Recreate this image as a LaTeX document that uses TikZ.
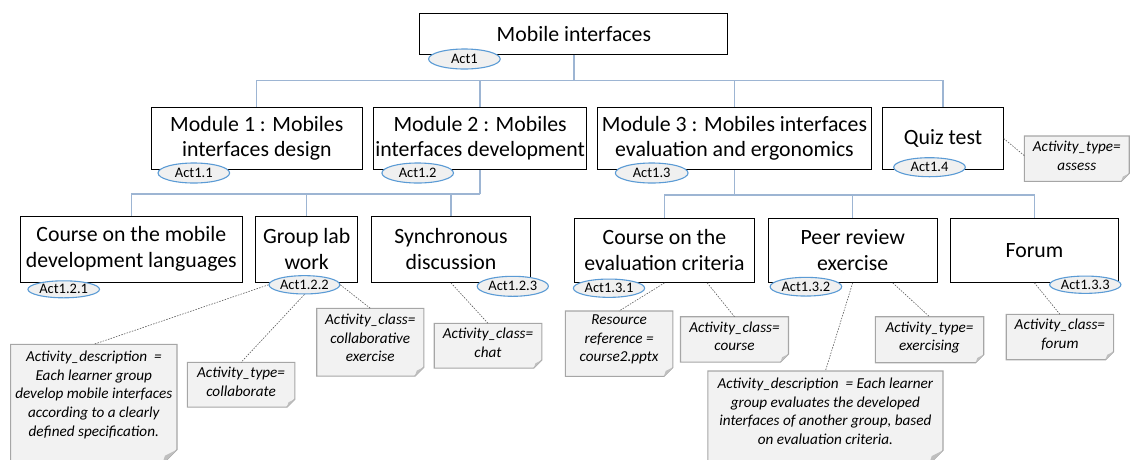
\documentclass[tikz,border=0pt]{standalone}
\usepackage{fontspec}
\setmainfont{Carlito}
\usetikzlibrary{shapes.geometric,calc,backgrounds}
\definecolor{linkblue}{HTML}{9DB5D3}
\definecolor{actblue}{HTML}{5B9BD5}
\definecolor{actfill}{HTML}{F0F0F0}
\definecolor{notefill}{HTML}{F2F2F2}
\definecolor{noteline}{HTML}{A6A6A6}
\definecolor{foldfill}{HTML}{BFBFBF}
\definecolor{dotgray}{HTML}{595959}
\tikzset{
  box/.style={draw=black, line width=1.1pt, fill=white, align=center, inner sep=0pt,
    font=\fontsize{21.8}{26}\selectfont},
  modbox/.style={box, font=\fontsize{21.8}{24.8}\selectfont},
  actel/.style={ellipse, draw=actblue, line width=1.1pt, fill=actfill, inner sep=0pt,
    font=\fontsize{14.5}{16}\selectfont},
  notetext/.style={align=center, inner sep=0pt, anchor=north,
    font=\itshape\fontsize{15.2}{18.7}\selectfont},
  link/.style={draw=linkblue, line width=1.3pt},
  dots/.style={draw=dotgray, line width=0.6pt, dash pattern=on 1.5pt off 1.3pt},
  notebg/.style={fill=notefill, draw=noteline, line width=1.1pt},
}
\begin{document}
\begin{tikzpicture}[x=1pt,y=-1pt]
\useasboundingbox (0,0) rectangle (1130,459);
% main boxes
\node[box, minimum width=308pt, minimum height=40.6pt] (top) at (573.9,34) {Mobile interfaces};
\node[modbox, minimum width=211pt, minimum height=62pt] (m1) at (256.8,138.5) {Module 1 : Mobiles\\interfaces design};
\node[modbox, minimum width=212.4pt, minimum height=62pt] (m2) at (480.1,138.5) {Module 2 : Mobiles\\interfaces development};
\node[modbox, minimum width=274pt, minimum height=62pt] (m3) at (734.5,138.5) {Module 3 : Mobiles interfaces\\evaluation and ergonomics};
\node[modbox, minimum width=120.3pt, minimum height=62pt] (quiz) at (943,138.5) {Quiz test};
\node[box, minimum width=222pt, minimum height=66.3pt] (l1) at (131.3,249.2) {Course on the mobile\\development languages};
\node[box, minimum width=102.2pt, minimum height=66.3pt] (l2) at (306.7,249.2) {Group lab\\work};
\node[box, minimum width=159.6pt, minimum height=66.3pt] (l3) at (451,249.2) {Synchronous\\discussion};
\node[box, minimum width=180pt, minimum height=64pt] (l4) at (664.5,250.3) {Course on the\\evaluation criteria};
\node[box, minimum width=168.7pt, minimum height=64pt] (l5) at (852.7,250.3) {Peer review\\exercise};
\node[box, minimum width=168.7pt, minimum height=64pt] (l6) at (1034.4,250.3) {Forum};
% tree connectors
\coordinate (b0) at ($(top.south)+(0,25.7)$);
\coordinate (b2) at ($(m2.south)+(0,24)$);
\coordinate (b3) at ($(m3.south)+(0,25)$);
\draw[link] (top.south) -- (b0);
\draw[link] (b0) -| (m1.north);
\draw[link] (b0) -| (m2.north);
\draw[link] (b0) -| (m3.north);
\draw[link] (b0) -| (quiz.north);
\draw[link] (m2.south) -- (b2);
\draw[link] (b2) -| (l1.north);
\draw[link] (b2) -| (l2.north);
\draw[link] (b2) -| (l3.north);
\draw[link] (m3.south) -- (b3);
\draw[link] (b3) -| (l4.north);
\draw[link] (b3) -| (l5.north);
\draw[link] (b3) -| (l6.north);
% activity ellipses
\node[actel, minimum width=71.6pt, minimum height=20pt] (act1) at (464.4,59) {Act1};
\node[actel, minimum width=71.6pt, minimum height=20pt] (a11) at (193.8,173) {Act1.1};
\node[actel, minimum width=71.6pt, minimum height=20pt] (a12) at (417.7,173) {Act1.2};
\node[actel, minimum width=72.7pt, minimum height=20pt] (a13) at (651.7,173) {Act1.3};
\node[actel, minimum width=71.6pt, minimum height=19pt] (a14) at (929.5,167.2) {Act1.4};
\node[actel, minimum width=71.6pt, minimum height=17pt] (a121) at (63.7,289.3) {Act1.2.1};
\node[actel, minimum width=70.8pt, minimum height=18.3pt] (a122) at (304.4,284.8) {Act1.2.2};
\node[actel, minimum width=71.2pt, minimum height=20pt] (a123) at (512.8,286.3) {Act1.2.3};
\node[actel, minimum width=71.3pt, minimum height=18.3pt] (a131) at (609,288.2) {Act1.3.1};
\node[actel, minimum width=71.6pt, minimum height=18.7pt] (a132) at (805.9,286.7) {Act1.3.2};
\node[actel, minimum width=71.3pt, minimum height=17.3pt] (a133) at (1085.3,284.7) {Act1.3.3};
% notes
\node[notetext, minimum width=104.4pt, minimum height=39pt] (nq) at (1076.8,136) {Activity\_type=\\assess};
\node[notetext, minimum width=166pt, minimum height=100.6pt] (n1) at (93.8,344.3) {Activity\_description~ =\\Each learner group\\develop mobile interfaces\\according to a clearly\\defined specification.};
\node[notetext, minimum width=107.2pt, minimum height=38.8pt] (n2) at (241.1,362.3) {Activity\_type=\\collaborate};
\node[notetext, minimum width=106.8pt, minimum height=58.8pt] (n3) at (370.3,308.3) {Activity\_class=\\collaborative\\exercise};
\node[notetext, minimum width=107.2pt, minimum height=39pt] (n4) at (488,323.3) {Activity\_class=\\chat};
\node[notetext, minimum width=107.2pt, minimum height=56.7pt] (n5) at (619.1,311) {Resource\\reference =\\course2.pptx};
\node[notetext, minimum width=107.6pt, minimum height=39pt] (n6) at (734.5,316.7) {Activity\_class=\\course};
\node[notetext, minimum width=234.8pt, minimum height=80pt] (n7) at (825.4,371) {Activity\_description~ = Each learner\\group evaluates the developed\\interfaces of another group, based\\on evaluation criteria.};
\node[notetext, minimum width=108pt, minimum height=41pt] (n8) at (929.5,316.7) {Activity\_type=\\exercising};
\node[notetext, minimum width=106.9pt, minimum height=39.8pt] (n9) at (1059.9,314.3) {Activity\_class=\\forum};
\begin{scope}[on background layer]
\foreach \n/\e/\f in {nq/6/8, n1/19.4/15, n2/5.6/8, n3/8.6/9, n4/5.4/8, n5/8.3/9, n6/6/8, n7/13/14, n8/4.6/8, n9/5.2/8} {
  \filldraw[notebg] (\n.north west) -- (\n.north east) -- ($(\n.south east)+(0,\e-\f)$)
    -- ($(\n.south east)+(-\f,\e)$) -- ($(\n.south west)+(0,\e)$) -- cycle;
  \fill[foldfill] ($(\n.south east)+(0,\e-\f)$) -- ($(\n.south east)+(-\f,\e)$)
    -- ($(\n.south east)+(-0.8*\f,\e-0.6*\f)$) -- cycle;
}
\end{scope}
% dotted annotation links
\draw[dots] (quiz.east) -- (nq.west);
\draw[dots] (a122.west) -- (n1.north);
\draw[dots] (a122.south) -- (n2.north);
\draw[dots] (a122.east) -- (n3.north);
\draw[dots] (l3.south) -- (n4.north);
\draw[dots] (l4.south) -- (n5.north);
\draw[dots] ($(l4.south)+(42.7,0)$) -- (n6.north);
\draw[dots] (l5.south) -- (n7.north);
\draw[dots] ($(l5.south)+(40,0)$) -- (n8.north);
\draw[dots] (l6.south) -- (n9.north);
\end{tikzpicture}
\end{document}
